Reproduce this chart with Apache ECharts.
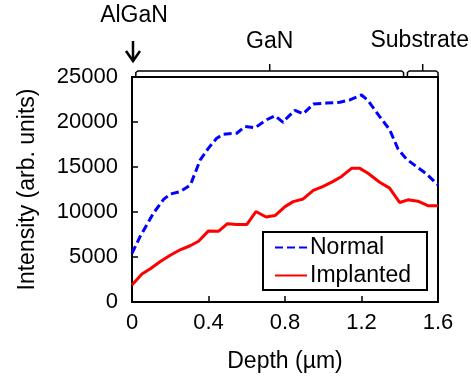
<!DOCTYPE html>
<html>
<head>
<meta charset="utf-8">
<title></title>
<script src="https://cdn.jsdelivr.net/npm/echarts@6/dist/echarts.min.js"></script>
<style>
  html, body { margin: 0; padding: 0; background: #fff; }
  #chart { width: 471px; height: 378px; }
</style>
</head>
<body>
<div id="chart"></div>
<script>
// 数据：深度(µm) 与强度
var depthNormal = [0, 0.043, 0.113, 0.165, 0.2, 0.252, 0.305, 0.357, 0.4, 0.443, 0.478, 0.548, 0.591, 0.643, 0.704, 0.748, 0.79, 0.808, 0.852, 0.895, 0.948, 1.017, 1.087, 1.139, 1.2, 1.234, 1.295, 1.347, 1.391, 1.434, 1.487, 1.539, 1.6];
var intensityNormal = [5400, 7300, 9900, 11400, 12000, 12250, 13000, 15800, 17100, 18200, 18650, 18750, 19500, 19350, 20250, 20700, 19950, 20400, 21300, 20900, 22000, 22100, 22200, 22450, 23000, 22400, 20600, 19150, 17000, 15900, 15050, 14250, 13000];
var depthImplanted = [0, 0.052, 0.096, 0.148, 0.2, 0.252, 0.304, 0.348, 0.4, 0.452, 0.499, 0.548, 0.6, 0.648, 0.701, 0.748, 0.8, 0.843, 0.895, 0.948, 1.0, 1.052, 1.096, 1.148, 1.191, 1.234, 1.295, 1.347, 1.4, 1.443, 1.495, 1.547, 1.6];
var intensityImplanted = [1900, 3100, 3700, 4500, 5200, 5800, 6250, 6750, 7900, 7850, 8700, 8600, 8600, 10050, 9450, 9600, 10600, 11150, 11450, 12400, 12850, 13400, 13950, 14850, 14850, 14300, 13300, 12650, 11050, 11350, 11200, 10700, 10700];

// 顶部注释区间（深度）
var ganRange = [0.02, 1.42];
var substrateRange = [1.44, 1.6];

function pairs(xs, ys) {
  return xs.map(function (x, i) { return [x, ys[i]]; });
}

var FONT = '"Liberation Sans", Arial, sans-serif';
var myChart = echarts.init(document.getElementById('chart'));

myChart.setOption({
  animation: false,
  textStyle: { fontFamily: FONT, color: '#000' },
  grid: {
    left: 132, right: 33, top: 77, bottom: 76,
    show: true, borderColor: '#000', borderWidth: 2
  },
  legend: {
    orient: 'vertical',
    left: 263, top: 232,
    padding: [4, 16, 3, 11],
    itemGap: 5,
    itemWidth: 32, itemHeight: 14,
    borderColor: '#000', borderWidth: 2,
    itemStyle: { opacity: 0 },
    textStyle: { fontSize: 23, fontFamily: FONT, color: '#000', padding: [0, 0, 0, -2] },
    data: ['Normal', 'Implanted']
  },
  xAxis: {
    type: 'value',
    min: 0, max: 1.6, interval: 0.4,
    name: 'Depth (µm)',
    nameLocation: 'middle',
    nameGap: 48,
    nameTextStyle: { fontSize: 23, fontFamily: FONT, color: '#000' },
    axisLine: { lineStyle: { color: '#000', width: 2 } },
    axisTick: { inside: true, length: 6, lineStyle: { color: '#000', width: 1.5 } },
    axisLabel: { fontSize: 22, color: '#000', margin: 10, fontFamily: FONT },
    splitLine: { show: false }
  },
  yAxis: {
    type: 'value',
    min: 0, max: 25000, interval: 5000,
    name: 'Intensity (arb. units)',
    nameLocation: 'middle',
    nameRotate: 90,
    nameGap: 93,
    nameTextStyle: { fontSize: 23, fontFamily: FONT, color: '#000' },
    axisLine: { show: true, lineStyle: { color: '#000', width: 2 } },
    axisTick: { show: true, inside: true, length: 6, lineStyle: { color: '#000', width: 1.5 } },
    axisLabel: { fontSize: 22, color: '#000', margin: 14, fontFamily: FONT, formatter: function (v) { return String(v); } },
    splitLine: { show: false }
  },
  series: [
    {
      name: 'Normal',
      type: 'line',
      symbol: 'none',
      data: pairs(depthNormal, intensityNormal),
      itemStyle: { color: '#0000ff' },
      lineStyle: { color: '#0000ff', width: 3, type: [8, 4] }
    },
    {
      name: 'Implanted',
      type: 'line',
      symbol: 'none',
      data: pairs(depthImplanted, intensityImplanted),
      itemStyle: { color: '#ff0000' },
      lineStyle: { color: '#ff0000', width: 3 }
    }
  ]
});

// 顶部括号与文字
function bracket(range, y) {
  var x0 = myChart.convertToPixel({ xAxisIndex: 0 }, range[0]);
  var x1 = myChart.convertToPixel({ xAxisIndex: 0 }, range[1]);
  var xc = (x0 + x1) / 2;
  return [
    {
      type: 'polyline',
      shape: { points: [[x0, y + 5], [x0, y + 1.5], [x0 + 2, y], [x1 - 2, y], [x1, y + 1.5], [x1, y + 5]] },
      style: { stroke: '#000', lineWidth: 1.5, fill: null }
    },
    {
      type: 'line',
      shape: { x1: xc, y1: y, x2: xc, y2: y - 7 },
      style: { stroke: '#000', lineWidth: 1.5 }
    }
  ];
}

var xAl = myChart.convertToPixel({ xAxisIndex: 0 }, 0);
var ganMid = myChart.convertToPixel({ xAxisIndex: 0 }, (ganRange[0] + ganRange[1]) / 2);
var subMid = myChart.convertToPixel({ xAxisIndex: 0 }, (substrateRange[0] + substrateRange[1]) / 2);

var g = [].concat(bracket(ganRange, 71), bracket(substrateRange, 71));
g.push(
  {
    type: 'text',
    style: { text: 'AlGaN', x: xAl + 2, y: 16, align: 'center', verticalAlign: 'middle', fontSize: 23, fontFamily: FONT, fill: '#000' }
  },
  {
    type: 'line',
    shape: { x1: xAl + 1, y1: 41, x2: xAl + 1, y2: 61 },
    style: { stroke: '#000', lineWidth: 2.5 }
  },
  {
    type: 'polyline',
    shape: { points: [[xAl - 6, 51], [xAl + 1, 61], [xAl + 8, 51]] },
    style: { stroke: '#000', lineWidth: 2.5, fill: null }
  },
  {
    type: 'text',
    style: { text: 'GaN', x: ganMid, y: 42, align: 'center', verticalAlign: 'middle', fontSize: 23, fontFamily: FONT, fill: '#000' }
  },
  {
    type: 'text',
    style: { text: 'Substrate', x: subMid - 3, y: 41, align: 'center', verticalAlign: 'middle', fontSize: 23, fontFamily: FONT, fill: '#000' }
  }
);
myChart.setOption({ graphic: g });
</script>
</body>
</html>
